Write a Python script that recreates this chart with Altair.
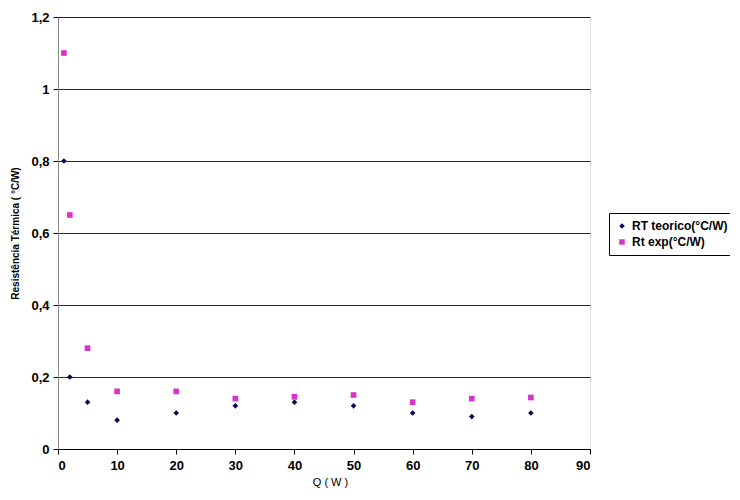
import altair as alt
import pandas as pd

q = [1, 2, 5, 10, 20, 30, 40, 50, 60, 70, 80]
rt_teorico = [0.80, 0.20, 0.13, 0.08, 0.10, 0.12, 0.13, 0.12, 0.10, 0.09, 0.10]
rt_exp = [1.10, 0.65, 0.28, 0.16, 0.16, 0.14, 0.145, 0.15, 0.13, 0.14, 0.143]
series_names = ["RT teorico(°C/W)", "Rt exp(°C/W)"]

rows = []
for name, vals in zip(series_names, [rt_teorico, rt_exp]):
    for x, y in zip(q, vals):
        rows.append({"Q": x, "R": y, "serie": name})
df = pd.DataFrame(rows)

chart = alt.Chart(df).mark_point(filled=True, opacity=1).encode(
    x=alt.X("Q:Q", scale=alt.Scale(domain=[0, 90], nice=False),
            axis=alt.Axis(values=list(range(0, 100, 10)), title="Q ( W )", grid=False,
                          domainColor="black", tickColor="black", tickSize=5,
                          labelFont="Arial", labelFontWeight="bold", labelFontSize=13,
                          labelColor="black", labelPadding=5,
                          titleFont="Arial", titleFontWeight="normal", titleFontSize=11,
                          titleColor="black", titlePadding=4, titleX=272)),
    y=alt.Y("R:Q", scale=alt.Scale(domain=[0, 1.2], nice=False),
            axis=alt.Axis(values=[0, 0.2, 0.4, 0.6, 0.8, 1.0, 1.2],
                          labelExpr="replace(format(datum.value, '.1~f'), '.', ',')",
                          title="Resistência Térmica ( °C/W)", grid=True, gridColor="black",
                          gridOpacity=0.85, domainColor="#888888", tickColor="black", tickSize=5,
                          labelFont="Arial", labelFontWeight="bold", labelFontSize=13,
                          labelColor="black", labelPadding=4,
                          titleFont="Arial", titleFontWeight="bold", titleFontSize=10,
                          titleColor="black", titlePadding=10)),
    color=alt.Color("serie:N", scale=alt.Scale(domain=series_names, range=["#0a0a50", "#d633c8"]),
                    legend=alt.Legend(title=None, orient="none", legendX=551, legendY=196,
                                      strokeColor="black", padding=7, fillColor="white",
                                      labelFont="Arial", labelFontWeight="bold", labelFontSize=12,
                                      labelColor="black", symbolSize=30, rowPadding=4)),
    shape=alt.Shape("serie:N", scale=alt.Scale(domain=series_names, range=["diamond", "square"])),
    size=alt.value(32),
).properties(
    width=532, height=432,
    autosize=alt.AutoSizeParams(type="none"),
    padding={"left": 50, "top": 9, "right": 140, "bottom": 43},
).configure_view(stroke="black", strokeWidth=1).configure(background="white")

chart.save("out.html", embed_options={"renderer": "svg", "actions": False})
